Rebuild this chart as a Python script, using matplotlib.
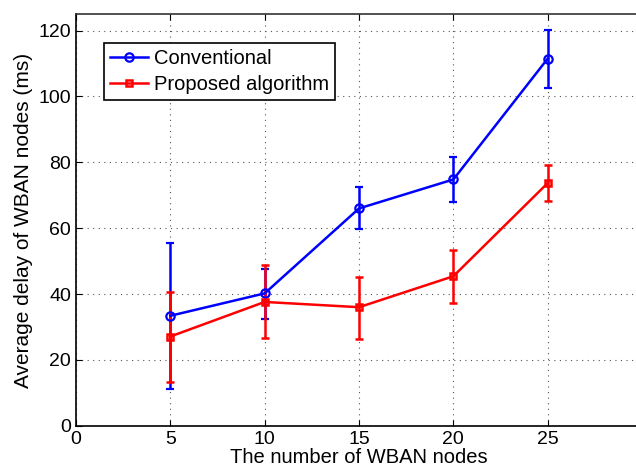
import numpy as np
import matplotlib
matplotlib.use('Agg')
import matplotlib.pyplot as plt

nodes = [5, 10, 15, 20, 25]

conv_mean = [33.4, 40.2, 66.0, 74.8, 111.5]
conv_low = [11.1, 32.5, 59.7, 68.1, 102.7]
conv_high = [55.6, 47.7, 72.4, 81.7, 120.1]

prop_mean = [27.1, 37.6, 36.0, 45.4, 73.7]
prop_low = [13.4, 26.8, 26.4, 37.3, 68.3]
prop_high = [40.5, 48.8, 45.2, 53.4, 79.2]

plt.rcParams['font.family'] = ['Liberation Sans', 'DejaVu Sans']

fig = plt.figure(figsize=(6.36, 4.72), dpi=100)
ax = fig.add_axes([0.1195, 0.098, 0.89, 0.872])

def err(mean, low, high):
    mean = np.array(mean)
    return [mean - np.array(low), np.array(high) - mean]

c1 = ax.errorbar(nodes, conv_mean, yerr=err(conv_mean, conv_low, conv_high),
                 color='#0000ff', marker='o', markersize=6, markerfacecolor='none',
                 markeredgewidth=1.6, linewidth=1.8, elinewidth=1.8, capsize=3,
                 capthick=1.8, label='Conventional')
c2 = ax.errorbar(nodes, prop_mean, yerr=err(prop_mean, prop_low, prop_high),
                 color='#ff0000', marker='s', markersize=5, markerfacecolor='none',
                 markeredgewidth=1.8, linewidth=1.8, elinewidth=1.8, capsize=3,
                 capthick=1.8, label='Proposed algorithm')

ax.set_xlim(0, 30)
ax.set_ylim(0, 125)
ax.set_xticks([0, 5, 10, 15, 20, 25])
ax.set_yticks([0, 20, 40, 60, 80, 100, 120])
ax.grid(True, linestyle=(0, (1, 4)), color='#555555', linewidth=0.8)
ax.tick_params(direction='in', labelsize=14, length=4, top=True)
for s in ax.spines.values():
    s.set_linewidth(1.2)
ax.spines['top'].set_color('#333333')

ax.set_xlabel('The number of WBAN nodes', fontsize=14.5, labelpad=0)
ax.set_ylabel('Average delay of WBAN nodes (ms)', fontsize=15, labelpad=4)

leg = ax.legend(handles=[c1[0], c2[0]], labels=['Conventional', 'Proposed algorithm'],
                loc='upper left', bbox_to_anchor=(0.049, 0.93), fontsize=14.5,
                fancybox=False, edgecolor='black', framealpha=1,
                handlelength=1.9, handletextpad=0.3, borderpad=0.3,
                labelspacing=0.35, borderaxespad=0)
leg.get_frame().set_linewidth(1.2)

fig.savefig('out.png', dpi=100)
